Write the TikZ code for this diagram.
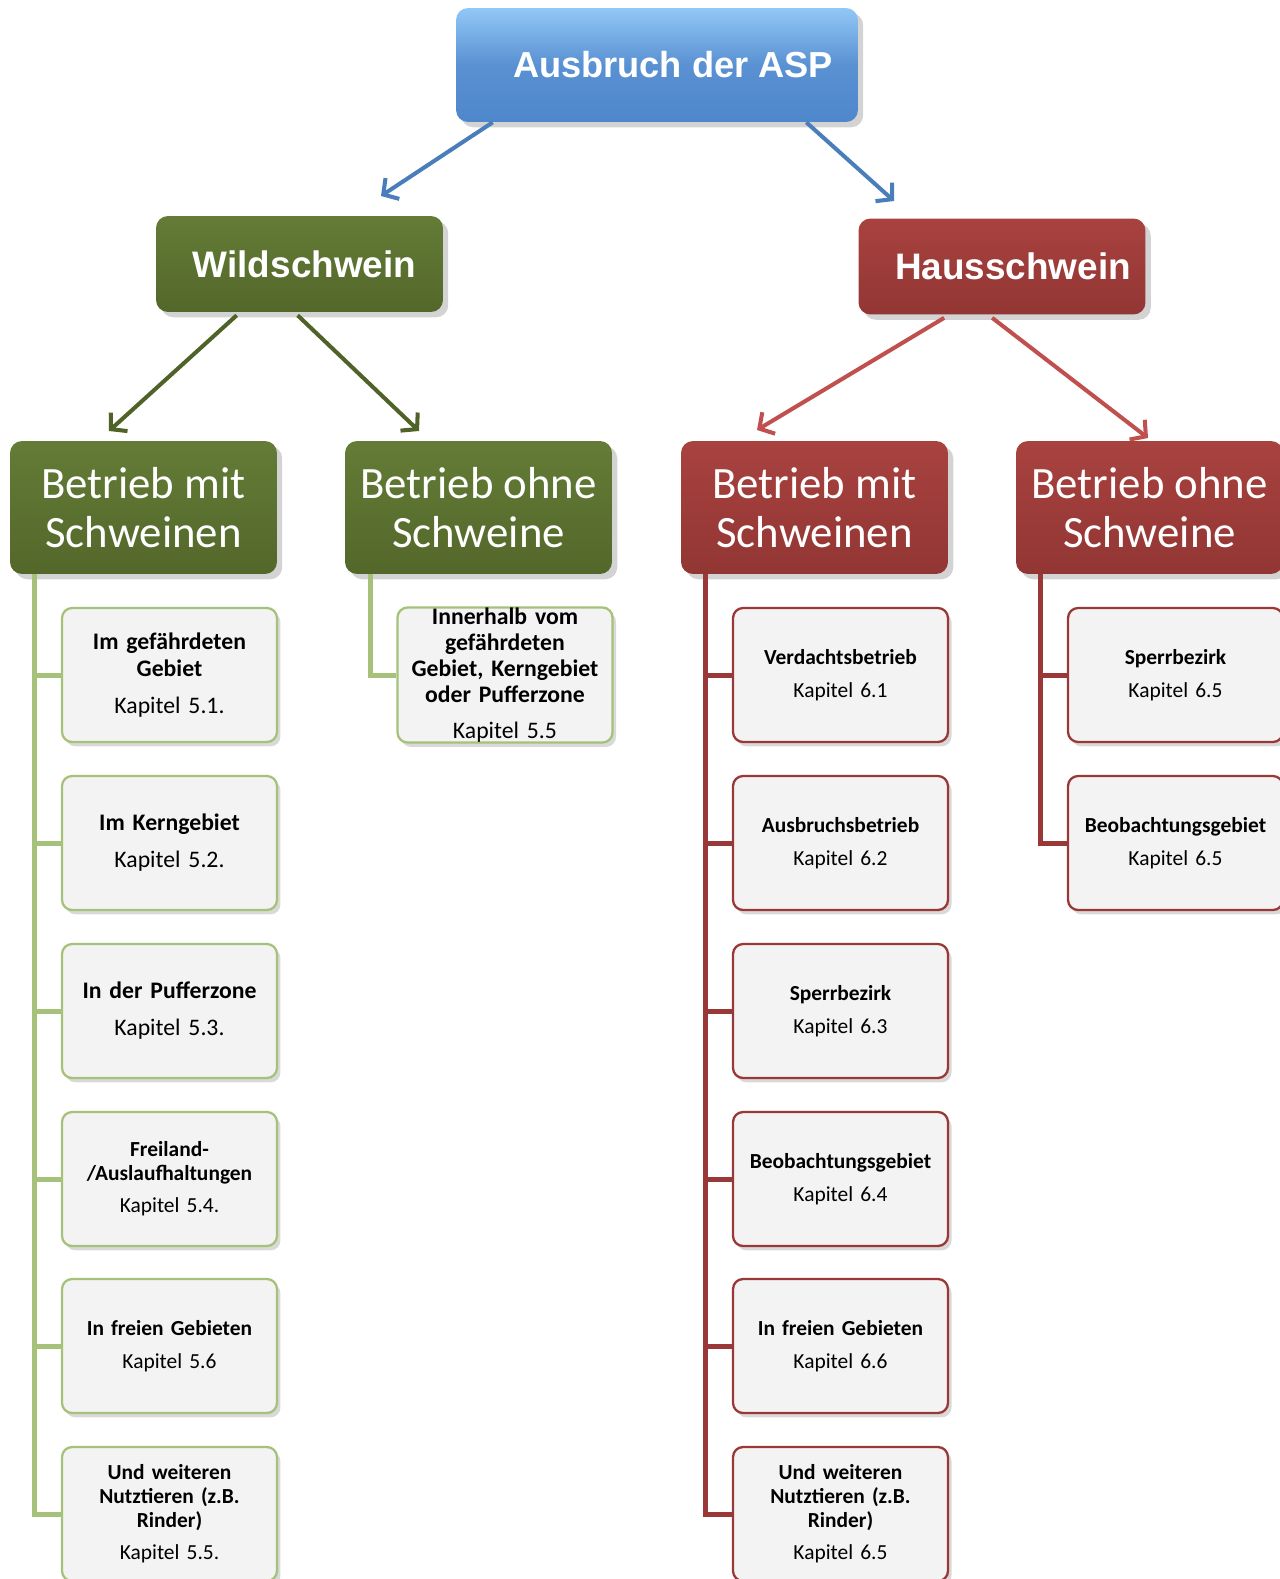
\documentclass[tikz,border=0pt]{standalone}
\usepackage{fontspec}
\setmainfont{Carlito}
\newfontfamily\arialfont{Liberation Sans}
\usetikzlibrary{shadows,arrows.meta}
\definecolor{aspblau}{HTML}{4F87CC}
\definecolor{asphell}{HTML}{92C8F6}
\definecolor{pfeilblau}{HTML}{4A7EBB}
\definecolor{wildgruen}{HTML}{53672A}
\definecolor{wildhell}{HTML}{647C37}
\definecolor{pfeilgruen}{HTML}{4F6228}
\definecolor{astgruen}{HTML}{A6C27A}
\definecolor{hausrot}{HTML}{923634}
\definecolor{haushell}{HTML}{A8423F}
\definecolor{pfeilrot}{HTML}{C0504D}
\definecolor{astrot}{HTML}{993836}
\definecolor{kasten}{HTML}{F3F3F3}
\newcommand{\eintrag}[2]{{\bfseries #1}\\[6pt]#2}
\newcommand{\eintragk}[2]{{\bfseries #1}\\[5pt]#2}
\tikzset{
	haupt/.style={rectangle, rounded corners=0.24cm, text=white, align=center,
		drop shadow={shadow xshift=3pt, shadow yshift=-3pt, opacity=0.35}},
	tier/.style={haupt, minimum width=5.74cm, minimum height=1.92cm,
		font=\arialfont\bfseries\fontsize{21}{24}\selectfont},
	stufe/.style={haupt, minimum width=5.34cm, minimum height=2.66cm,
		font=\fontsize{25.5}{28}\selectfont},
	blatt/.style={rectangle, rounded corners=0.2cm, fill=kasten, line width=1.3pt,
		minimum width=4.3cm, minimum height=2.68cm, text width=4.1cm, inner xsep=0.1cm,
		align=center, drop shadow={shadow xshift=2pt, shadow yshift=-2.5pt, opacity=0.3}},
	gblatt/.style={blatt, draw=astgruen},
	rblatt/.style={blatt, draw=astrot},
	gross/.style={font=\fontsize{13.5}{15}\selectfont},
	klein/.style={font=\fontsize{12.2}{13.5}\selectfont},
	pfeil/.style={line width=2.3pt, -{Straight Barb[length=0.22cm,width=0.5cm]}},
	ast/.style={line width=0.1cm}
}
\begin{document}
\begin{tikzpicture}[x=0.02cm, y=-0.02cm]
	\useasboundingbox (0,0) rectangle (1279,1579);
	\node[haupt, top color=asphell, bottom color=aspblau, middle color=aspblau!85!asphell,
		minimum width=8.04cm, minimum height=2.28cm,
		font=\arialfont\bfseries\fontsize{20.6}{23}\selectfont] (asp) at (657,65)
		{\hspace*{0.64cm}Ausbruch der ASP};
	\node[tier, top color=wildhell, bottom color=wildgruen] (wild) at (299.5,264) {\hspace*{0.2cm}Wildschwein};
	\node[tier, top color=haushell, bottom color=hausrot] (haus) at (1002,266.5) {\hspace*{0.44cm}Hausschwein};
	\coordinate (pw) at (381,196);
	\coordinate (ph) at (894,201);
	\coordinate (pwm) at (109,431);
	\coordinate (pwo) at (419,431);
	\coordinate (phm) at (757,430);
	\coordinate (pho) at (1148,438);
	\draw[pfeil, pfeilblau] ([xshift=0.74cm]asp.south west) -- (pw);
	\draw[pfeil, pfeilblau] ([xshift=-1.04cm]asp.south east) -- (ph);
	\draw[pfeil, pfeilgruen] ([xshift=1.62cm,yshift=-0.06cm]wild.south west) -- (pwm);
	\draw[pfeil, pfeilgruen] ([xshift=2.84cm,yshift=-0.06cm]wild.south west) -- (pwo);
	\draw[pfeil, pfeilrot] ([xshift=1.72cm,yshift=-0.06cm]haus.south west) -- (phm);
	\draw[pfeil, pfeilrot] ([xshift=2.68cm,yshift=-0.06cm]haus.south west) -- (pho);
	\node[stufe, top color=wildhell, bottom color=wildgruen] (wm) at (143.5,507.5) {Betrieb mit\\Schweinen};
	\node[stufe, top color=wildhell, bottom color=wildgruen] (wo) at (478.5,507.5) {Betrieb ohne\\Schweine};
	\node[stufe, top color=haushell, bottom color=hausrot] (hm) at (814.5,507.5) {Betrieb mit\\Schweinen};
	\node[stufe, top color=haushell, bottom color=hausrot] (ho) at (1149.5,507.5) {Betrieb ohne\\Schweine};
	\coordinate (wm-ast) at ([xshift=0.5cm]wm.south west);
	\coordinate (wo-ast) at ([xshift=0.52cm]wo.south west);
	\coordinate (hm-ast) at ([xshift=0.5cm]hm.south west);
	\coordinate (ho-ast) at ([xshift=0.5cm]ho.south west);
	\node[gblatt, gross] (wm1) at (169.5,675) {\eintrag{Im gefährdeten\\Gebiet}{Kapitel 5.1.}};
	\node[gblatt, gross] (wm2) at (169.5,843) {\eintrag{Im Kerngebiet}{Kapitel 5.2.}};
	\node[gblatt, gross] (wm3) at (169.5,1011) {\eintrag{In der Pufferzone}{Kapitel 5.3.}};
	\node[gblatt, klein] (wm4) at (169.5,1179) {\eintragk{Freiland-\\/Auslaufhaltungen}{Kapitel 5.4.}};
	\node[gblatt, klein] (wm5) at (169.5,1346) {\eintragk{In freien Gebieten}{Kapitel 5.6}};
	\node[gblatt, klein] (wm6) at (169.5,1514) {\eintragk{Und weiteren\\Nutztieren (z.B.\\Rinder)}{Kapitel 5.5.}};
	\node[gblatt, font=\fontsize{13.5}{14.8}\selectfont, inner ysep=0pt] (wo1) at (505,675)
		{\eintrag{Innerhalb vom\\gefährdeten\\Gebiet, Kerngebiet\\oder Pufferzone}{Kapitel 5.5}};
	\node[rblatt, klein] (hm1) at (840.5,675) {\eintragk{Verdachtsbetrieb}{Kapitel 6.1}};
	\node[rblatt, klein] (hm2) at (840.5,843) {\eintragk{Ausbruchsbetrieb}{Kapitel 6.2}};
	\node[rblatt, klein] (hm3) at (840.5,1011) {\eintragk{Sperrbezirk}{Kapitel 6.3}};
	\node[rblatt, klein] (hm4) at (840.5,1179) {\eintragk{Beobachtungsgebiet}{Kapitel 6.4}};
	\node[rblatt, klein] (hm5) at (840.5,1346) {\eintragk{In freien Gebieten}{Kapitel 6.6}};
	\node[rblatt, klein] (hm6) at (840.5,1514) {\eintragk{Und weiteren\\Nutztieren (z.B.\\Rinder)}{Kapitel 6.5}};
	\node[rblatt, klein] (ho1) at (1175.5,675) {\eintragk{Sperrbezirk}{Kapitel 6.5}};
	\node[rblatt, klein] (ho2) at (1175.5,843) {\eintragk{Beobachtungsgebiet}{Kapitel 6.5}};
	\foreach \i in {1,...,6}
		\draw[ast, astgruen] (wm-ast) |- (wm\i.west);
	\draw[ast, astgruen] (wo-ast) |- (wo1.west);
	\foreach \i in {1,...,6}
		\draw[ast, astrot] (hm-ast) |- (hm\i.west);
	\foreach \i in {1,2}
		\draw[ast, astrot] (ho-ast) |- (ho\i.west);
\end{tikzpicture}
\end{document}
